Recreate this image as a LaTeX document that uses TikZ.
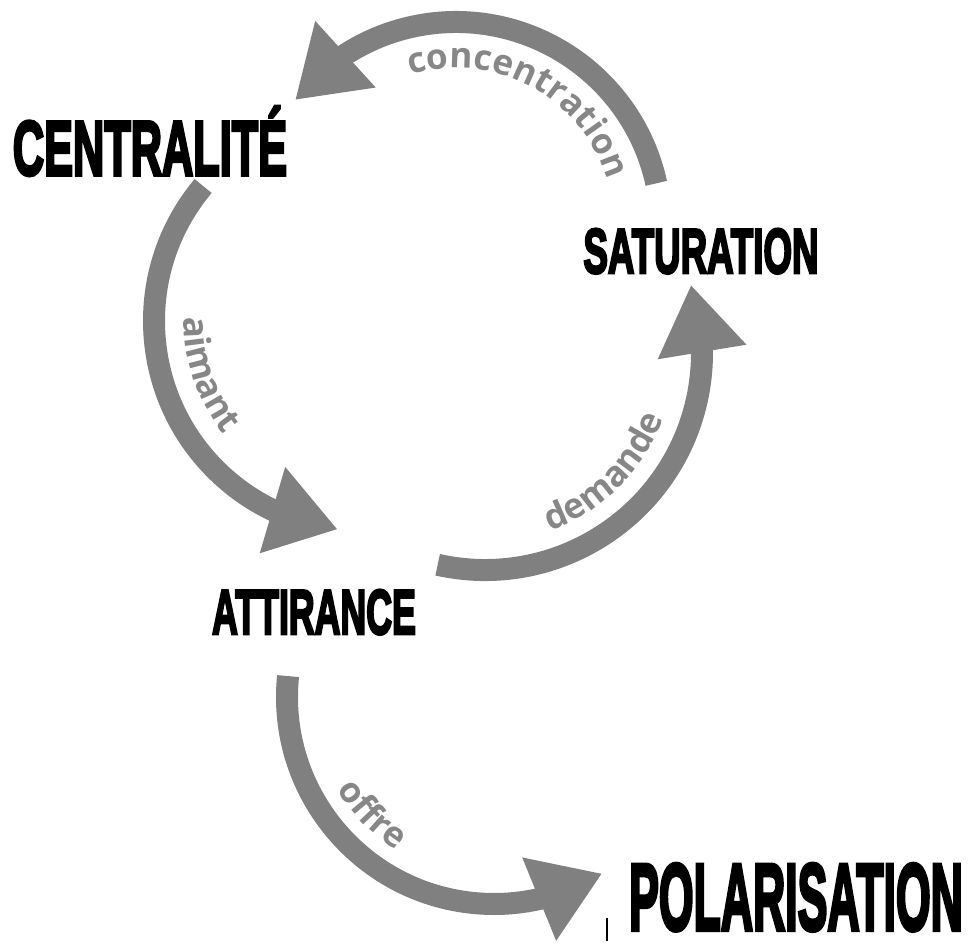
\documentclass[tikz,border=0pt]{standalone}
\usepackage{fontspec}
\usepackage{xcolor}
\usepackage{graphicx}
\usetikzlibrary{arrows.meta,bending,decorations.text,calc}
\newfontfamily\titrefont[FakeBold=4.5]{Liberation Sans Bold}
\newfontfamily\etiquettefont{Open Sans}
\definecolor{flechegris}{RGB}{128,128,128}
\definecolor{etiqgris}{RGB}{135,135,135}
\newcommand\etiquette{\etiquettefont\bfseries\fontsize{20}{20}\selectfont\color{etiqgris}}
\newcommand\etroit[2]{\scalebox{#1}[1]{#2}}

\begin{document}
\begin{tikzpicture}[x=0.2mm, y=0.2mm,
  etat/.style={inner sep=0pt, anchor=base, text=black, font=\titrefont},
  fleche/.style={line width=4.4mm, draw=flechegris,
                 -{Triangle[width=17mm,length=13.6mm,flex]}},
  legende/.style={decorate, decoration={text along path, text align=center,
                  text={|\etiquette|#1}}}]

\useasboundingbox (0,0) rectangle (968,-943);

\node[etat] (centralite) at (150,-175) {\fontsize{44}{44}\selectfont\etroit{0.56}{CENTRALITÉ}};
\node[etat] (saturation) at (701,-273) {\fontsize{36}{36}\selectfont\etroit{0.58}{SATURATION}};
\node[etat] (attirance) at (314,-634) {\fontsize{36}{36}\selectfont\etroit{0.565}{ATTIRANCE}};
\node[etat] (polarisation) at (796,-930) {\fontsize{54}{54}\selectfont\etroit{0.47}{POLARISATION}};

% centres des arcs
\coordinate (o1) at (456,-227);
\coordinate (o2) at (364,-321);
\coordinate (o3) at (485,-353);
\coordinate (o4) at (494,-697);

\draw[fleche] ($(o1)+(12.3:205)$) arc[start angle=12.3, end angle=141.7, radius=205];
\draw[fleche] ($(o2)+(140:210)$) arc[start angle=140, end angle=262.8, radius=210];
\draw[fleche] ($(o3)+(257.4:217)$) arc[start angle=257.4, end angle=378.3, radius=217];
\draw[fleche] ($(o4)+(174.2:207)$) arc[start angle=174.2, end angle=301.5, radius=207];

\path[legende=concentration] ($(o1)+(110:159)$) arc[start angle=110, end angle=14, radius=159];
\path[legende=aimant] ($(o2)+(166:180)$) arc[start angle=166, end angle=232, radius=180];
\path[legende=demande] ($(o3)+(276:190)$) arc[start angle=276, end angle=354, radius=190];
\path[legende=offre] ($(o4)+(194:182)$) arc[start angle=194, end angle=254, radius=182];

\draw[line width=0.3mm] (607,-918) -- (607,-941);
\end{tikzpicture}
\end{document}
